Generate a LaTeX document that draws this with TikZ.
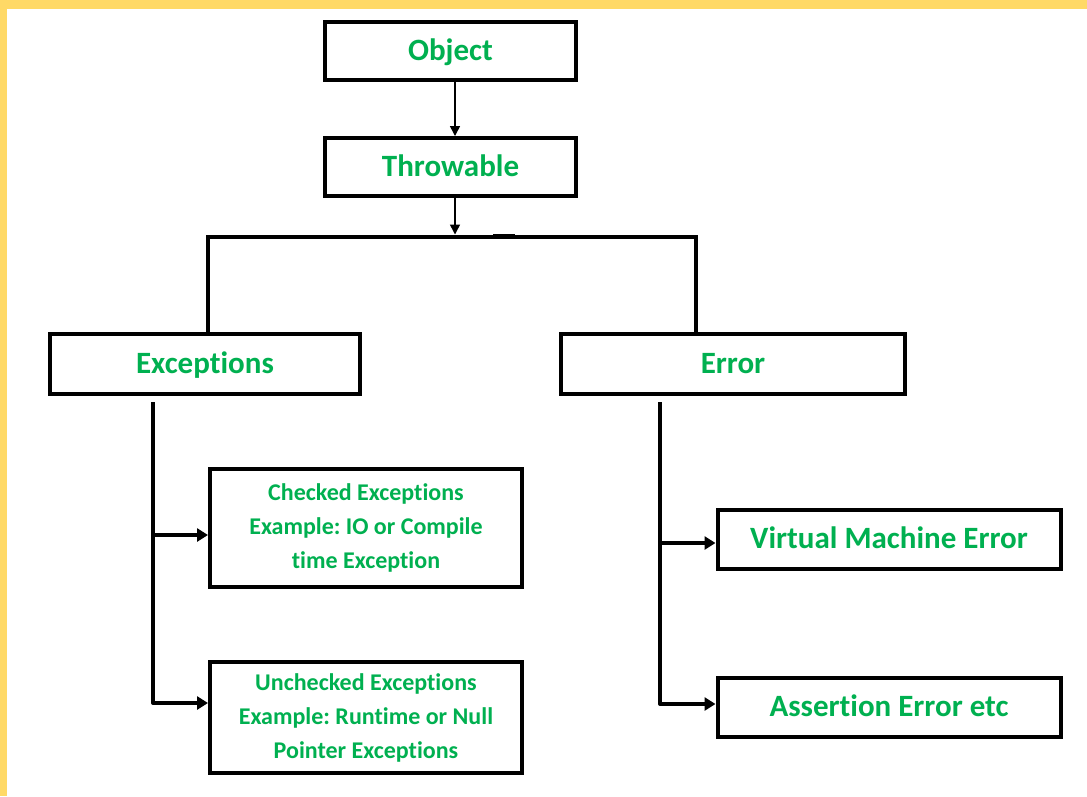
\documentclass[tikz,border=0pt]{standalone}
\usepackage{fontspec}
\setmainfont{Carlito}[Ligatures={NoCommon}]
\usetikzlibrary{arrows.meta}
\definecolor{frameyellow}{HTML}{FFD966}
\definecolor{txtgreen}{HTML}{00B050}
\frenchspacing
\begin{document}
\begin{tikzpicture}[x=1pt,y=-1pt,
  box/.style={draw=black, line width=4pt, fill=white, inner sep=0pt, text=txtgreen,
    font=\bfseries\fontsize{31}{36}\selectfont, align=center, text height=22pt, text depth=4pt},
  smallbox/.style={draw=black, line width=4pt, fill=white, inner sep=0pt, text=txtgreen,
    align=center, font=\bfseries\fontsize{24}{34}\selectfont},
  thinarrow/.style={line width=1.5pt, -{Triangle[length=10pt,width=10pt]}},
  thickline/.style={line width=4pt, line join=miter},
  thickarrow/.style={line width=4pt, line join=round, -{Triangle[length=11pt,width=13pt]}}]
\useasboundingbox (0,0) rectangle (1087,796);
\fill[frameyellow] (0,0) rectangle (1087,796);
\fill[white] (7,8.5) rectangle (1087,796);

\node[box, minimum width=251pt, minimum height=58pt] (obj) at (450.5,51) {Object};
\node[box, minimum width=251pt, minimum height=58pt] (thr) at (450.5,167) {Throwable};
\node[box, minimum width=310pt, minimum height=60pt] (exc) at (205,364) {Exceptions};
\node[box, minimum width=344pt, minimum height=60pt] (err) at (733,364) {Error};
\node[smallbox, minimum width=312pt, minimum height=118pt] (chk) at (366,528)
  {Checked Exceptions\\Example: IO or Compile\\time Exception};
\node[smallbox, minimum width=312pt, minimum height=111pt] (unc) at (366,717.5)
  {Unchecked Exceptions\\Example: Runtime or Null\\Pointer Exceptions};
\node[box, minimum width=343pt, minimum height=59pt] (vm) at (889,539) {Virtual Machine Error};
\node[box, minimum width=343pt, minimum height=59pt] (ass) at (889,707.5) {Assertion Error etc};

\coordinate (bl) at (208,236.5);
\coordinate (br) at (695.5,236.5);
\coordinate (bt) at (455,234.5);
\draw[thinarrow] (obj.south -| bt) -- (thr.north -| bt);
\draw[thinarrow] (thr.south -| bt) -- (bt);
\draw[thickline] (exc.north -| bl) -- (bl) -- (br) -- (err.north -| br);
\draw[line width=5.5pt] (493,236.5) -- (515,236.5);

\coordinate (es) at (153,402);
\coordinate (ej) at (153,535);
\coordinate (eb) at (153,703);
\draw[thickarrow] (es) -- (eb) -- (eb -| unc.west);
\draw[thickarrow] (ej) -- (ej -| chk.west);

\coordinate (rs) at (660,402);
\coordinate (rj) at (660,543);
\coordinate (rb) at (660,704);
\draw[thickarrow] (rs) -- (rb) -- (rb -| ass.west);
\draw[thickarrow] (rj) -- (rj -| vm.west);
\end{tikzpicture}
\end{document}
